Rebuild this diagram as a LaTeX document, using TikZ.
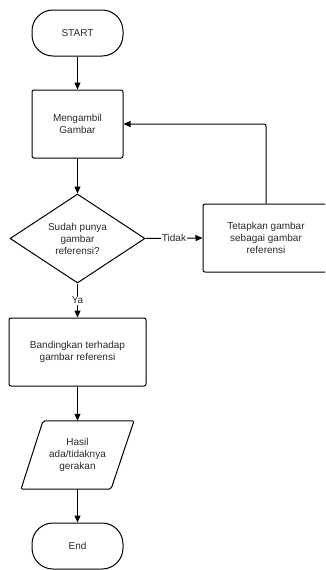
\documentclass[tikz,border=0pt]{standalone}
\usepackage{fontspec}
\setmainfont{Liberation Sans}
\usetikzlibrary{shapes.geometric,arrows.meta}
\definecolor{txt}{HTML}{2A2A2A}
\tikzset{
  base/.style={draw=black, line width=1pt, align=center, text=txt,
    font=\fontsize{10}{12}\selectfont, inner sep=0pt},
  term/.style={base, minimum width=91pt, minimum height=46pt, rounded corners=21pt},
  proc/.style={base, rectangle, rounded corners=2pt},
  dec/.style={base, diamond, minimum width=135pt, minimum height=89pt, aspect=1.5},
  io/.style={align=center, text=txt, font=\fontsize{10}{12}\selectfont, inner sep=0pt,
    minimum width=91pt, minimum height=68pt},
  conn/.style={line width=1pt, -{Triangle[length=7pt,width=6pt]}},
  lbl/.style={fill=white, text=txt, font=\fontsize{10}{12}\selectfont, inner sep=1pt}
}
\begin{document}
\begin{tikzpicture}[x=1pt,y=-1pt]
\clip (0,0) rectangle (325,570);
\fill[white] (0,0) rectangle (325,570);
\node[term] (start) at (77.5,33) {START};
\node[proc, minimum width=91pt, minimum height=68pt] (grab) at (77.5,124) {Mengambil\\Gambar};
\node[dec] (dec) at (77.5,238.5) {Sudah punya\\gambar\\referensi?};
\node[proc, minimum width=126pt, minimum height=68pt] (tetap) at (266,238) {Tetapkan gambar\\sebagai gambar\\referensi};
\node[proc, minimum width=137pt, minimum height=68pt] (band) at (77.5,352) {Bandingkan terhadap\\gambar referensi};
\node[io] (hasil) at (77.5,455) {Hasil\\ada/tidaknya\\gerakan};
\draw[line width=1pt, rounded corners=2pt]
  ([xshift=-34.5pt]hasil.north) -- ([xshift=56.5pt]hasil.north)
  -- ([xshift=33.5pt]hasil.south) -- ([xshift=-56.5pt]hasil.south) -- cycle;
\node[term] (end) at (77.5,546) {End};
\draw[conn] (start) -- (grab);
\draw[conn] (grab) -- (dec);
\draw[conn] (dec.east) -- node[lbl] {Tidak} (tetap.west);
\draw[conn] (dec.south) -- node[lbl] {Ya} (band.north);
\draw[conn] (band) -- (hasil.north);
\draw[conn] (hasil.south) -- (end);
\draw[conn, rounded corners=2pt] (tetap.north) |- (grab.east);
\end{tikzpicture}
\end{document}
